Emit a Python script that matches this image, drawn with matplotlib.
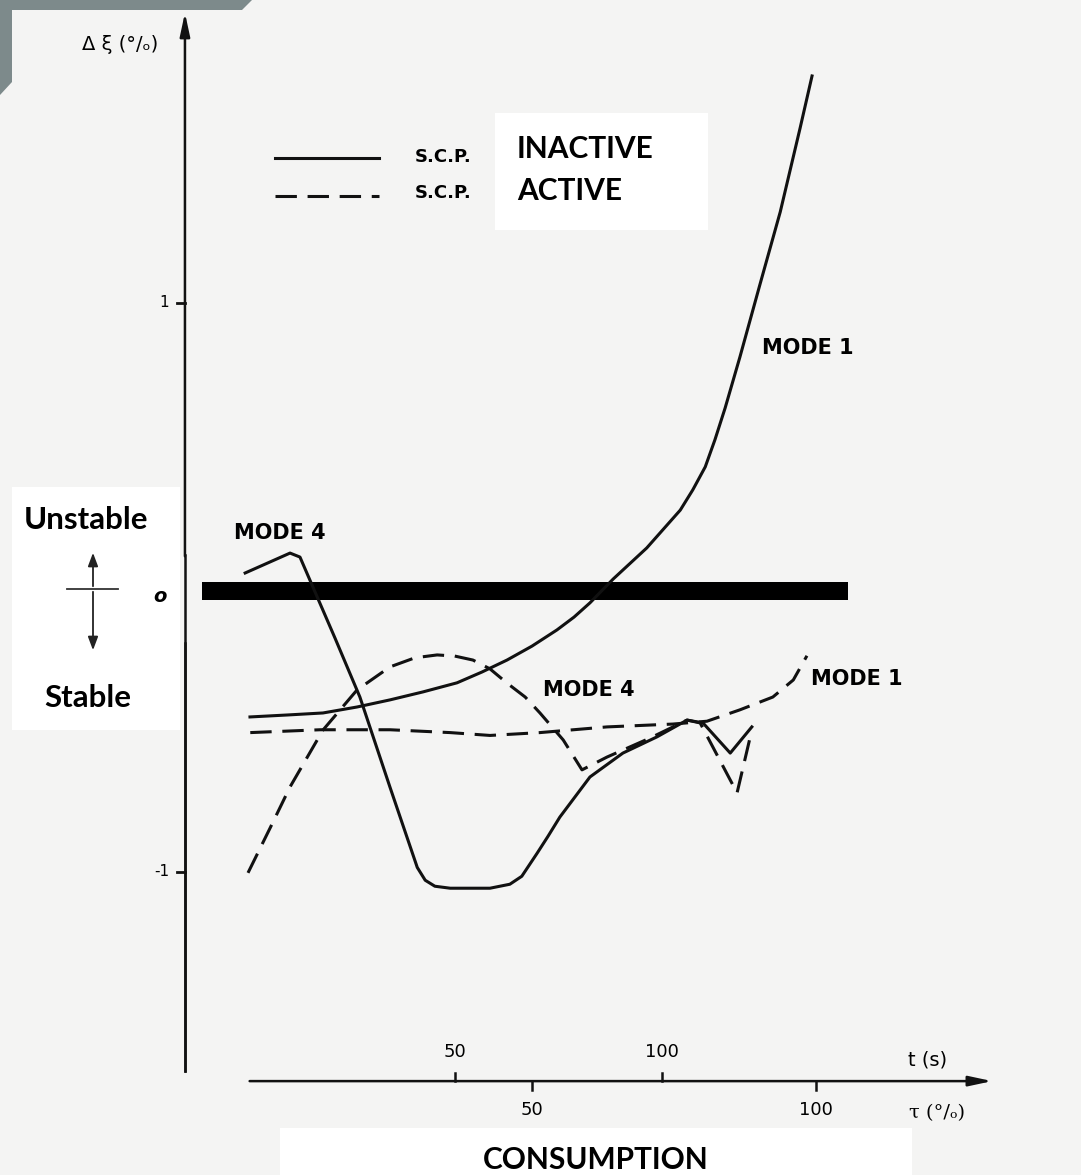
import numpy as np
import matplotlib.pyplot as plt
from matplotlib.patches import Rectangle, Polygon, FancyArrowPatch

# consumption tau (%) on x, damping change (%) on y
inact_m1_tau = [0.35, 7.0, 13.2, 19.2, 25.0, 30.8, 36.8, 41.2, 45.6, 50.0, 54.4, 57.4, 60.2, 64.3, 70.2,
                76.1, 78.3, 80.5, 82.2, 84.0, 86.6, 90.1, 93.7, 97.2, 99.3]
inact_m1_dxi = [-0.455, -0.448, -0.441, -0.420, -0.395, -0.367, -0.335, -0.297, -0.255, -0.206, -0.149,
                -0.104, -0.054, 0.030, 0.139, 0.272, 0.343, 0.424, 0.519, 0.631, 0.810, 1.063, 1.320,
                1.615, 1.798]

act_m1_tau = [0.4, 12.7, 25, 35.6, 42.6, 51.4, 63.2, 74.8, 80.8, 86.6, 92.4, 96, 98.4]
act_m1_dxi = [-0.51, -0.50, -0.50, -0.51, -0.52, -0.51, -0.49, -0.48, -0.47, -0.43, -0.385, -0.325, -0.24]

inact_m4_tau = [-0.5, 7.4, 9.15, 10.9, 15.3, 19.7, 25.0, 29.8, 31.2, 32.9, 35.6, 42.6, 46.1, 48.2, 50.9,
                52.8, 54.9, 60.2, 66.0, 72.0, 77.3, 80.1, 84.9, 88.7]
inact_m4_dxi = [0.051, 0.121, 0.107, 0.026, -0.177, -0.385, -0.702, -0.984, -1.029, -1.050, -1.057,
                -1.057, -1.043, -1.015, -0.934, -0.875, -0.807, -0.666, -0.582, -0.525, -0.466, -0.476,
                -0.582, -0.490]

act_m4_tau = [0, 3.9, 7.4, 13.2, 19.2, 25.0, 29.4, 33.3, 36.4, 39.6, 42.6, 45.6, 48.8, 51.4, 55.5, 58.8,
              63.2, 70.8, 77.3, 79.6, 86.1, 88.7]
act_m4_dxi = [-1.003, -0.845, -0.701, -0.501, -0.360, -0.279, -0.247, -0.237, -0.241, -0.255, -0.286,
              -0.336, -0.385, -0.441, -0.536, -0.641, -0.596, -0.529, -0.466, -0.476, -0.722, -0.501]

y_ticks = [1, -1]
tau_ticks = [50, 100]
t_ticks = [50, 100]
t_to_tau = 0.729  # 1 s of time expressed on the tau scale

W, H = 1081, 1175
fig = plt.figure(figsize=(W / 100, H / 100), dpi=100, facecolor='#f4f4f3')
ax = fig.add_axes([0, 0, 1, 1])
ax.set_xlim(-43.66, 146.65)
ax.set_ylim(-2.065, 2.065)
ax.axis('off')

def fx(px):
    return px / W

def fy(py):
    return 1 - py / H

cond = ['Liberation Sans Narrow', 'DejaVu Sans']
calib = ['Lato', 'DejaVu Sans']

# scan corner and pasted white boxes
fig.patches.append(Polygon([(fx(0), fy(0)), (fx(252), fy(0)), (fx(242), fy(10)), (fx(12), fy(10)),
                            (fx(12), fy(82)), (fx(0), fy(95))], closed=True,
                           transform=fig.transFigure, facecolor='#7d8a8b', edgecolor='none'))
for (x0, y0, x1, y1) in [(495, 113, 708, 230), (12, 487, 180, 730), (280, 1128, 912, 1175)]:
    fig.patches.append(Rectangle((fx(x0), fy(y1)), fx(x1) - fx(x0), fy(y0) - fy(y1),
                                 transform=fig.transFigure, facecolor='white', edgecolor='none'))

# axes
ax_x = -11.1
base_y = -1.735
ax.plot([ax_x, ax_x], [-1.70, 0.115], color='#111111', lw=1.8)
ax.annotate('', xy=(ax_x, 2.03), xytext=(ax_x, 0.1),
            arrowprops=dict(arrowstyle='-|>,head_length=1.4,head_width=0.3', color='#111111', lw=1.8))
ax.plot([ax_x, ax_x], [-0.196, -1.70], color='#111111', lw=1.8)
for v in y_ticks:
    ax.plot([ax_x - 1.4, ax_x], [v, v], color='#111111', lw=2)
    fig.text(fx(169), fy(587.5 - 284.5 * v), '1' if v == 1 else '-1', ha='right', va='center',
             fontsize=11, family=cond)
fig.text(fx(160), fy(596), 'o', ha='center', va='center', fontsize=14, style='italic',
         weight='bold', family=cond)
fig.text(fx(120), fy(45), 'Δ ξ (°/ₒ)', ha='center', va='center', fontsize=14, family=['DejaVu Sans'])

ax.annotate('', xy=(131.5, base_y), xytext=(-0.2, base_y),
            arrowprops=dict(arrowstyle='-|>,head_length=1.4,head_width=0.3', color='#111111', lw=1.8))
for t in t_ticks:
    ax.plot([t * t_to_tau, t * t_to_tau], [base_y, base_y + 0.03], color='#111111', lw=1.8)
    ax.text(t * t_to_tau, base_y + 0.07, str(t), ha='center', va='bottom', fontsize=13, family=cond)
for v in tau_ticks:
    ax.plot([v, v], [base_y, base_y - 0.03], color='#111111', lw=1.8)
    ax.text(v, base_y - 0.07, str(v), ha='center', va='top', fontsize=13, family=cond)
fig.text(fx(928), fy(1060), 't (s)', ha='center', va='center', fontsize=14, family=cond)
fig.text(fx(937), fy(1113), 'τ (°/ₒ)', ha='center', va='center', fontsize=14, family=['DejaVu Serif'])

# zero line drawn as a thick bar
ax.add_patch(Rectangle((-8.1, -0.044), 113.7, 0.063, facecolor='black', edgecolor='none'))

# curves
kw = dict(color='#111111', lw=2.2, solid_joinstyle='round', dash_joinstyle='round')
ax.plot(inact_m1_tau, inact_m1_dxi, **kw)
ax.plot(inact_m4_tau, inact_m4_dxi, **kw)
ax.plot(act_m1_tau, act_m1_dxi, dashes=(7, 3.5), **kw)
ax.plot(act_m4_tau, act_m4_dxi, dashes=(7, 3.5), **kw)

# curve labels
for (x, y, s) in [(280, 533, 'MODE 4'), (589, 690, 'MODE 4'), (808, 348, 'MODE 1'), (857, 679, 'MODE 1')]:
    fig.text(fx(x), fy(y), s, ha='center', va='center', fontsize=15, weight='bold', family=cond)

# legend
ax.plot([4.8, 23], [1.51, 1.51], **kw)
ax.plot([4.8, 23], [1.375, 1.375], dashes=(7, 3.5), **kw)
for y in [157, 193]:
    fig.text(fx(443), fy(y), 'S.C.P.', ha='center', va='center', fontsize=13, weight='bold', family=cond)
fig.text(fx(517), fy(149), 'INACTIVE', ha='left', va='center', fontsize=21.5, weight='bold', family=calib)
fig.text(fx(517), fy(191), 'ACTIVE', ha='left', va='center', fontsize=21.5, weight='bold', family=calib)

# stability indication
fig.text(fx(86), fy(520), 'Unstable', ha='center', va='center', fontsize=22.5, weight='bold', family=calib)
fig.text(fx(88), fy(698), 'Stable', ha='center', va='center', fontsize=22.5, weight='bold', family=calib)
fig.add_artist(plt.Line2D([fx(67), fx(118)], [fy(589), fy(589)], color='#333333', lw=1.3))
for end in [550, 653]:
    fig.patches.append(FancyArrowPatch((fx(93), fy(589)), (fx(93), fy(end)),
                       transform=fig.transFigure, arrowstyle='-|>,head_length=8,head_width=3',
                       color='#222222', lw=1.3))

fig.text(fx(596), fy(1160), 'CONSUMPTION', ha='center', va='center', fontsize=21.5, weight='bold', family=calib)

fig.savefig('out.png', dpi=100, facecolor=fig.get_facecolor())
